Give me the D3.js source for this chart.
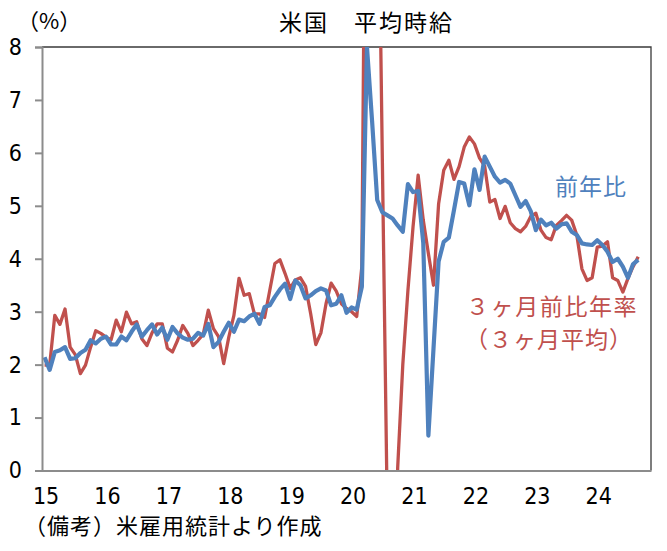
<!DOCTYPE html>
<html>
<head>
<meta charset="utf-8">
<script src="https://cdn.jsdelivr.net/npm/d3@7"></script>
<style>
  body { margin: 0; background: #fff; }
  svg { display: block; }
  .cjk { font-family: "Noto Sans CJK JP", "Noto Sans CJK SC", sans-serif; }
  .num { font-family: "Liberation Sans Narrow", "DejaVu Sans Condensed", "Liberation Sans", sans-serif; }
</style>
</head>
<body>
<script>
// monthly, Jan 2015 .. Sep 2024
const yearLabels = ["15", "16", "17", "18", "19", "20", "21", "22", "23", "24"];
const yTicks = [0, 1, 2, 3, 4, 5, 6, 7, 8];

// 前年比
const yoy = [
  2.14, 1.90, 2.24, 2.27, 2.33, 2.11, 2.12, 2.22, 2.28, 2.46, 2.40, 2.49,
  2.53, 2.38, 2.38, 2.53, 2.46, 2.62, 2.76, 2.53, 2.65, 2.76, 2.57, 2.70,
  2.47, 2.71, 2.59, 2.51, 2.47, 2.49, 2.60, 2.55, 2.77, 2.33, 2.43, 2.62,
  2.79, 2.62, 2.85, 2.82, 2.91, 2.96, 2.77, 3.09, 3.12, 3.28, 3.42, 3.53,
  3.24, 3.59, 3.50, 3.25, 3.31, 3.39, 3.44, 3.40, 3.12, 3.15, 3.31, 2.98,
  3.08, 3.04, 3.47, 8.00, 6.60, 5.11, 4.88, 4.82, 4.76, 4.63, 4.51, 5.41,
  5.26, 5.28, 4.30, 0.66, 2.30, 3.95, 4.32, 4.40, 4.92, 5.45, 5.42, 5.01,
  5.69, 5.30, 5.93, 5.74, 5.55, 5.44, 5.49, 5.42, 5.20, 4.98, 5.09, 4.90,
  4.54, 4.74, 4.63, 4.68, 4.57, 4.65, 4.67, 4.51, 4.45, 4.29, 4.27, 4.26,
  4.35, 4.26, 4.13, 3.94, 4.00, 3.85, 3.64, 3.90, 3.98
];

// ３ヶ月前比年率（３ヶ月平均）
const threeMonth = [
  1.99, 1.99, 2.93, 2.76, 3.05, 2.33, 2.19, 1.83, 1.99, 2.33, 2.64, 2.59,
  2.52, 2.47, 2.84, 2.62, 2.99, 2.77, 2.81, 2.49, 2.36, 2.60, 2.77, 2.77,
  2.31, 2.24, 2.46, 2.74, 2.59, 2.36, 2.46, 2.57, 3.03, 2.68, 2.53, 2.02,
  2.52, 2.93, 3.63, 3.31, 3.34, 2.96, 2.96, 2.89, 3.40, 3.91, 3.98, 3.72,
  3.44, 3.60, 3.64, 3.48, 2.96, 2.38, 2.60, 3.15, 3.54, 3.39, 3.15, 3.06,
  3.00, 2.91, 3.85, 16.0, 20.0, 12.9, 5.90, -1.0, -3.5, 0.05, 2.00, 3.40,
  4.60, 5.58, 4.73, 4.10, 3.50, 5.04, 5.67, 5.86, 5.50, 5.74, 6.11, 6.30,
  6.17, 5.90, 5.75, 5.07, 5.12, 4.76, 4.99, 4.68, 4.57, 4.51, 4.61, 4.80,
  4.86, 4.54, 4.40, 4.36, 4.63, 4.72, 4.82, 4.73, 4.45, 3.81, 3.59, 3.64,
  4.22, 4.24, 4.32, 3.64, 3.59, 3.37, 3.63, 3.85, 4.04
];

const width = 667;
const height = 551;
const plot = { left: 42, right: 651, top: 47, bottom: 470.5 };
const blue = "#4f81bd";
const red = "#c0504d";

const svg = d3.select("body")
  .append("svg")
  .attr("width", width)
  .attr("height", height);

const x = d3.scaleLinear()
  .domain([-0.5, 118.5])
  .range([plot.left, plot.right]);

const y = d3.scaleLinear()
  .domain([0, 8])
  .range([plot.bottom, plot.top]);

svg.append("defs")
  .append("clipPath")
  .attr("id", "plot-clip")
  .append("rect")
  .attr("x", plot.left)
  .attr("y", plot.top)
  .attr("width", plot.right - plot.left)
  .attr("height", plot.bottom - plot.top);

// frame: dark top and right edge
svg.append("path")
  .attr("d", `M${plot.left},${plot.top}H${plot.right}V${plot.bottom}`)
  .attr("fill", "none")
  .attr("stroke", "#3a3a3a")
  .attr("stroke-width", 1.3);

const line = d3.line()
  .x((d, i) => x(i))
  .y(d => y(d));

const lines = svg.append("g").attr("clip-path", "url(#plot-clip)");

lines.append("path")
  .datum(threeMonth)
  .attr("d", line)
  .attr("fill", "none")
  .attr("stroke", red)
  .attr("stroke-width", 3.3)
  .attr("stroke-linejoin", "round");

lines.append("path")
  .datum(yoy)
  .attr("d", line)
  .attr("fill", "none")
  .attr("stroke", blue)
  .attr("stroke-width", 4.2)
  .attr("stroke-linejoin", "round");

// y axis
const yAxis = svg.append("g")
  .attr("transform", `translate(${plot.left},0)`)
  .call(d3.axisLeft(y).tickValues(yTicks).tickSize(7).tickPadding(13).tickFormat(d3.format("d")));

// x axis
const xAxis = svg.append("g")
  .attr("transform", `translate(0,${plot.bottom})`)
  .call(d3.axisBottom(x)
    .tickValues(yearLabels.map((d, i) => i * 12))
    .tickSize(0)
    .tickPadding(17)
    .tickFormat((d, i) => yearLabels[i]));

[yAxis, xAxis].forEach(g => {
  g.select(".domain").attr("stroke", "#8c8c8c").attr("stroke-width", 2);
  g.selectAll(".tick line").attr("stroke", "#8c8c8c").attr("stroke-width", 2);
  g.selectAll(".tick text")
    .attr("class", "num")
    .attr("fill", "#000")
    .style("font-size", "23px");
});
xAxis.selectAll(".tick text").attr("dx", 1);

// texts
svg.append("text")
  .attr("class", "cjk")
  .attr("x", 17)
  .attr("y", 29)
  .style("font-size", "22px")
  .text("（%）");

svg.append("text")
  .attr("class", "cjk")
  .attr("x", 279)
  .attr("y", 31)
  .style("font-size", "23px")
  .style("letter-spacing", "2px")
  .text("米国　平均時給");

svg.append("text")
  .attr("class", "cjk")
  .attr("x", 555)
  .attr("y", 195)
  .attr("fill", blue)
  .style("font-size", "23px")
  .style("letter-spacing", "1px")
  .text("前年比");

svg.append("text")
  .attr("class", "cjk")
  .attr("x", 466)
  .attr("y", 315)
  .attr("fill", red)
  .style("font-size", "23px")
  .style("letter-spacing", "1.6px")
  .text("３ヶ月前比年率");

svg.append("text")
  .attr("class", "cjk")
  .attr("x", 465)
  .attr("y", 348)
  .attr("fill", red)
  .style("font-size", "23px")
  .style("letter-spacing", "1px")
  .text("（３ヶ月平均）");

svg.append("text")
  .attr("class", "cjk")
  .attr("x", 24)
  .attr("y", 534)
  .style("font-size", "22px")
  .style("letter-spacing", "1px")
  .text("（備考）米雇用統計より作成");
</script>
</body>
</html>
